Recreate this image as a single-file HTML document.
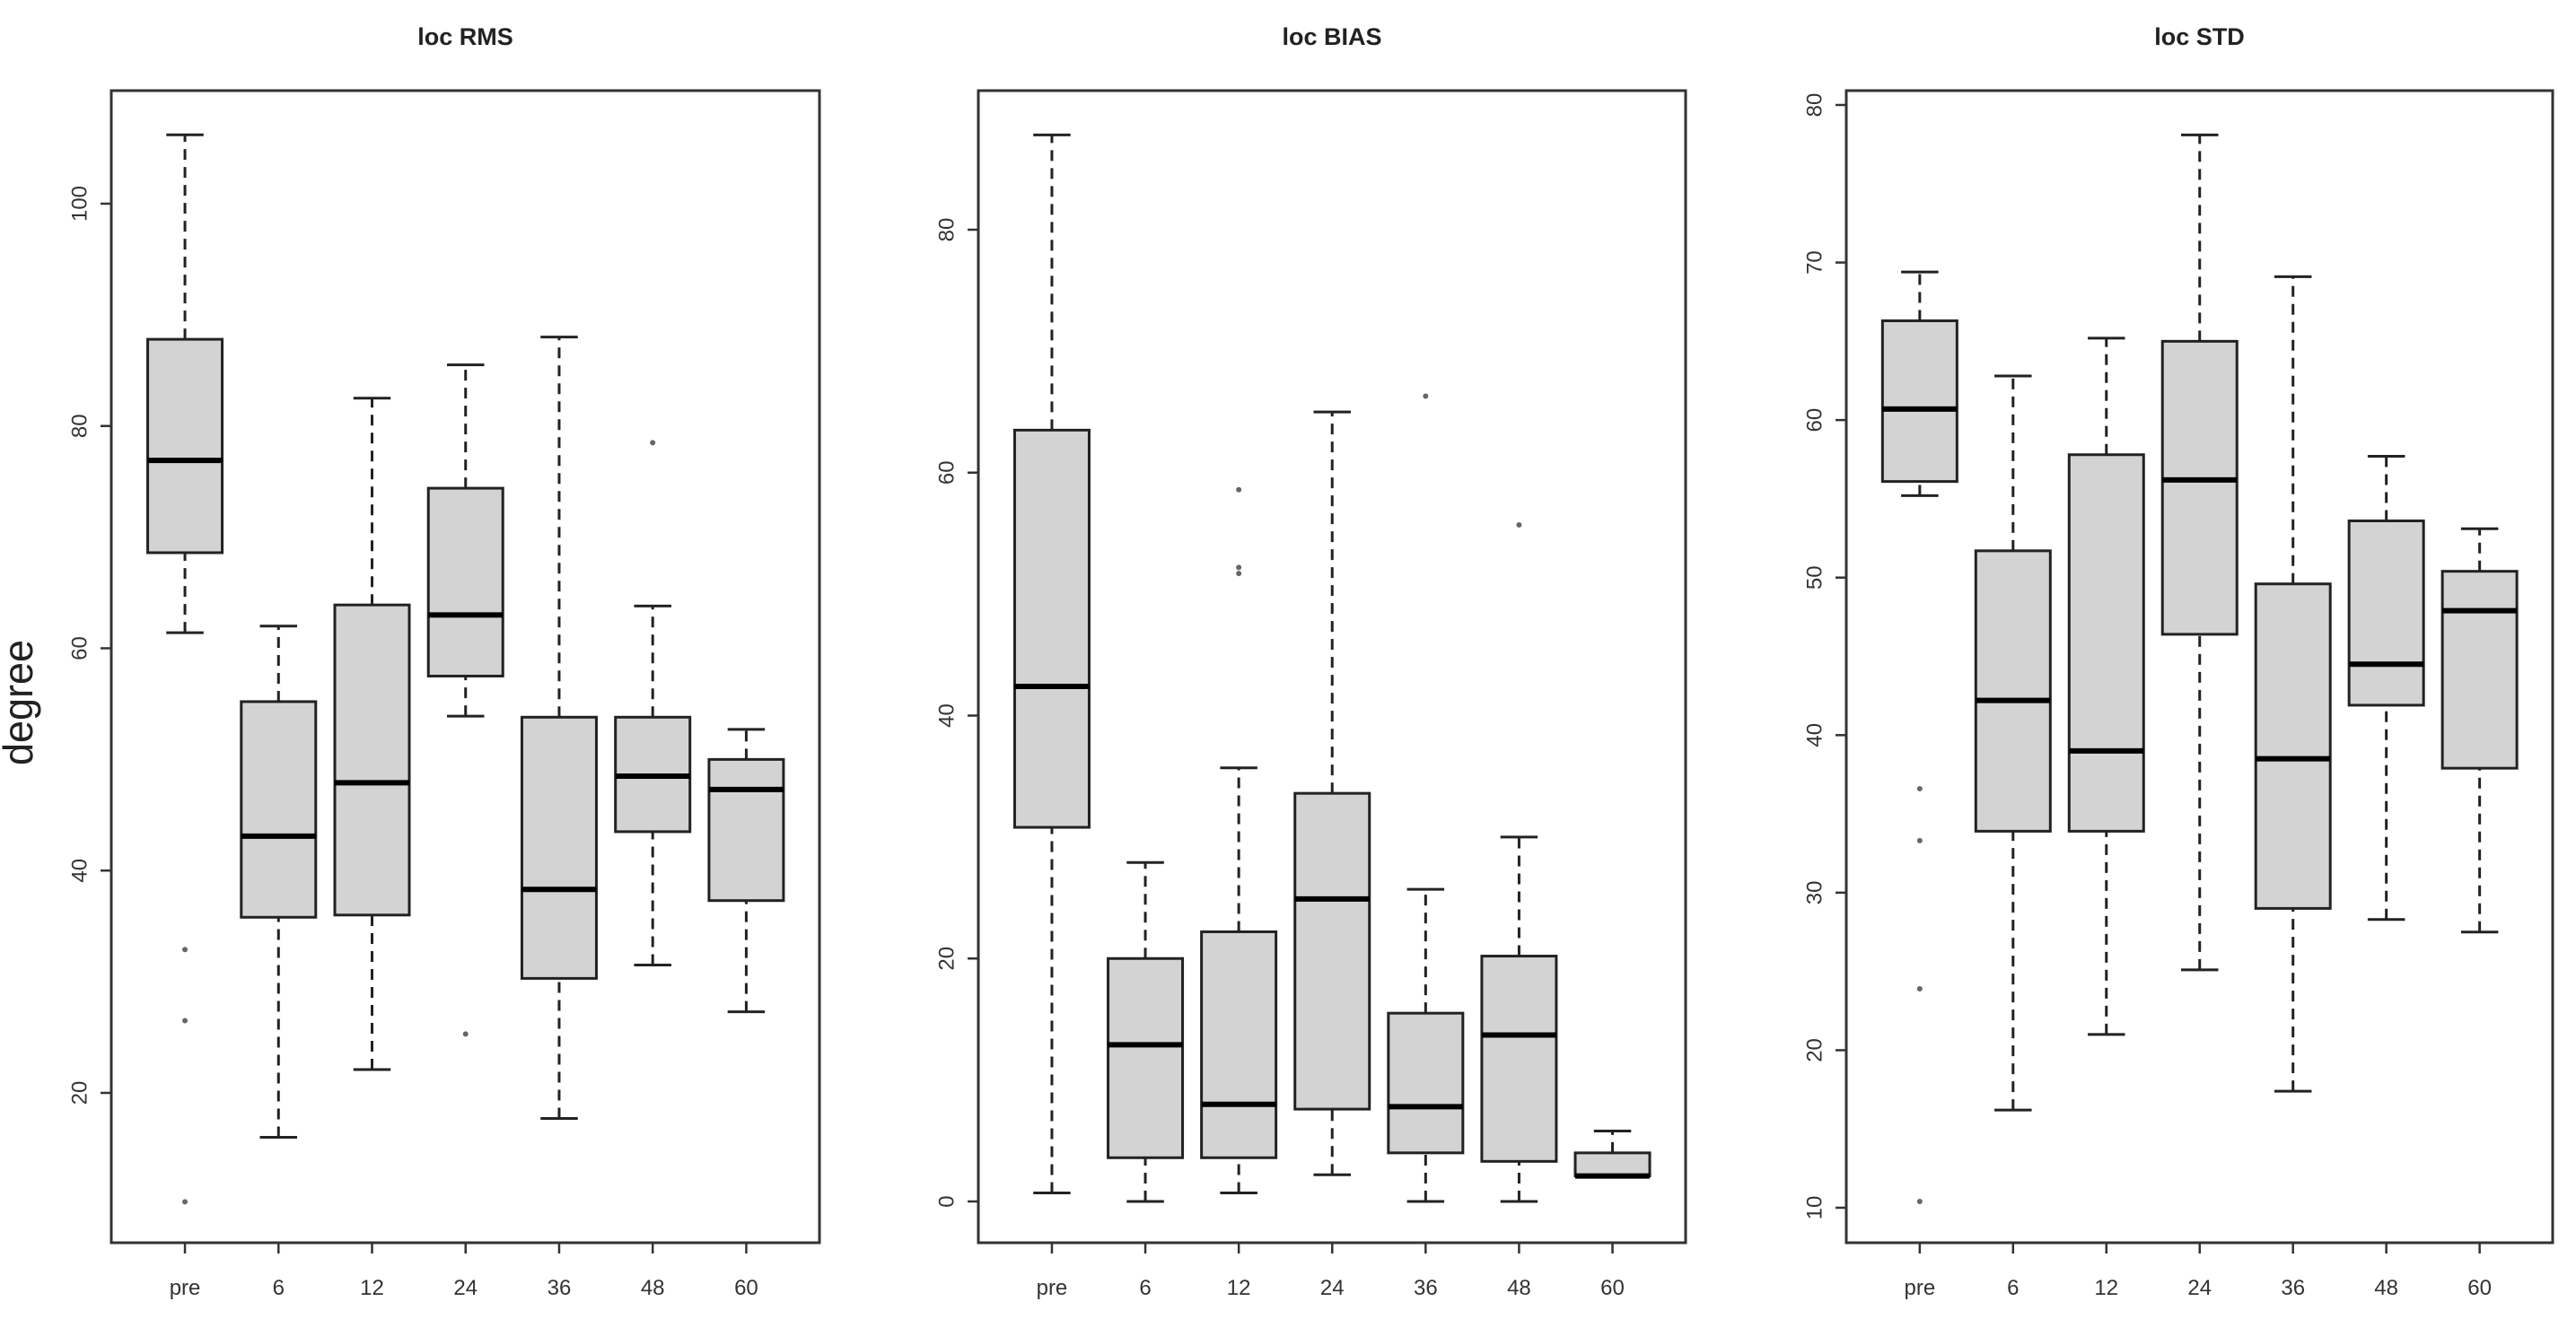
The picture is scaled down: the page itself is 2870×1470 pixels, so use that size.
<!DOCTYPE html>
<html><head><meta charset="utf-8"><style>
html,body{margin:0;padding:0;background:#fff;}
svg{display:block;}
text{font-family:"Liberation Sans",sans-serif;}
</style></head><body>
<svg id="chart" width="2870" height="1470" viewBox="0 0 2870 1470">
<text x="36" y="783" font-size="46" fill="#222" text-anchor="middle" transform="rotate(-90 36 783)" textLength="140" lengthAdjust="spacingAndGlyphs">degree</text>
</svg>
<script>
const categories = ["pre","6","12","24","36","48","60"];
const titles = ["loc RMS","loc BIAS","loc STD"];
// [whiskerLow, Q1, median, Q3, whiskerHigh]
const rmsStats = [[61.4,68.6,76.9,87.8,106.2],[16.0,35.8,43.1,55.2,62.0],[22.1,36.0,47.9,63.9,82.5],[53.9,57.5,63.0,74.4,85.5],[17.7,30.3,38.3,53.8,88.0],[31.5,43.5,48.5,53.8,63.8],[27.3,37.3,47.3,50.0,52.7]];
const rmsOutliers = [[32.9,26.5,10.2],[],[],[25.3],[],[78.5],[]];
const biasStats = [[0.7,30.8,42.4,63.5,87.8],[0,3.6,12.9,20.0,27.9],[0.7,3.6,8.0,22.2,35.7],[2.2,7.6,24.9,33.6,65.0],[0,4.0,7.8,15.5,25.7],[0,3.3,13.7,20.2,30.0],[2.0,2.1,2.1,4.0,5.8]];
const biasOut = [[],[],[58.6,52.2,51.7],[],[66.3],[55.7],[]];
const stdStats = [[55.2,56.1,60.7,66.3,69.4],[16.2,33.9,42.2,51.7,62.8],[21.0,33.9,39.0,57.8,65.2],[25.1,46.4,56.2,65.0,78.1],[17.4,29.0,38.5,49.6,69.1],[28.3,41.9,44.5,53.6,57.7],[27.5,37.9,47.9,50.4,53.1]];
const stdOutliers = [[36.6,33.3,23.9,10.4],[],[],[],[],[],[]];
const rmsTicks = [20,40,60,80,100];
const biasTicks = [0,20,40,60,80];
const stdTicks = [10,20,30,40,50,60,70,80];

const NS="http://www.w3.org/2000/svg";
const svgEl=document.getElementById('chart');
function mk(tag,attrs,parent){const e=document.createElementNS(NS,tag);for(const k in attrs)e.setAttribute(k,attrs[k]);(parent||svgEl).appendChild(e);return e;}

const panels=[
 {stats:rmsStats,out:rmsOutliers,ticks:rmsTicks,left:124,right:913,v1:100,p1:227,v2:20,p2:1218,title:titles[0],slug:'rms'},
 {stats:biasStats,out:biasOut,ticks:biasTicks,left:1090,right:1878,v1:80,p1:256,v2:0,p2:1339,title:titles[1],slug:'bias'},
 {stats:stdStats,out:stdOutliers,ticks:stdTicks,left:2057,right:2844,v1:80,p1:117,v2:10,p2:1346,title:titles[2],slug:'std'}
];
const plotTop=101,plotBottom=1385;
panels.forEach(p=>{
  const g=mk('g',{});
  
  
  const y=v=>p.p1+(p.v1-v)*(p.p2-p.p1)/(p.v1-p.v2);
  const step=(p.right-p.left)/7.57;
  const x=i=>p.left+(p.right-p.left)*0.104+i*step;
  const cx=(p.left+p.right)/2;
  const t=mk('text',{x:cx,y:50,'font-size':27,'font-weight':'bold','text-anchor':'middle',fill:'#222'},g);
  t.textContent=p.title;
  
  
  const fr=mk('rect',{x:p.left,y:plotTop,width:p.right-p.left,height:plotBottom-plotTop,fill:'none',stroke:'#333','stroke-width':3},g);
  
  
  p.ticks.forEach(v=>{
    mk('line',{x1:p.left-12,x2:p.left,y1:y(v),y2:y(v),stroke:'#333','stroke-width':2.5},g);
    const tx=p.left-34;
    const l=mk('text',{x:tx,y:y(v),'font-size':24,'text-anchor':'middle',fill:'#333',transform:`rotate(-90 ${tx} ${y(v)})`,'dominant-baseline':'middle'},g);
    l.textContent=v;
    
    
  });
  const bw=83;
  categories.forEach((c,i)=>{
    const xi=x(i);
    mk('line',{x1:xi,x2:xi,y1:plotBottom,y2:plotBottom+12,stroke:'#333','stroke-width':2.5},g);
    const cl=mk('text',{x:xi,y:1443,'font-size':24,'text-anchor':'middle',fill:'#333'},g);
    cl.textContent=c;
    
    
    const s=p.stats[i];
    const bg=mk('g',{},g);
    
    
    mk('line',{x1:xi,x2:xi,y1:y(s[0]),y2:y(s[1]),stroke:'#222','stroke-width':3,'stroke-dasharray':'12,8'},bg);
    mk('line',{x1:xi,x2:xi,y1:y(s[3]),y2:y(s[4]),stroke:'#222','stroke-width':3,'stroke-dasharray':'12,8'},bg);
    mk('line',{x1:xi-bw/4,x2:xi+bw/4,y1:y(s[0]),y2:y(s[0]),stroke:'#222','stroke-width':3},bg);
    mk('line',{x1:xi-bw/4,x2:xi+bw/4,y1:y(s[4]),y2:y(s[4]),stroke:'#222','stroke-width':3},bg);
    mk('rect',{x:xi-bw/2,y:y(s[3]),width:bw,height:Math.max(1,y(s[1])-y(s[3])),fill:'#d3d3d3',stroke:'#222','stroke-width':3},bg);
    mk('line',{x1:xi-bw/2,x2:xi+bw/2,y1:y(s[2]),y2:y(s[2]),stroke:'#000','stroke-width':6},bg);
    (p.out[i]||[]).forEach(o=>{
      const oc=mk('circle',{cx:xi,cy:y(o),r:2.5,fill:'#666',stroke:'#666','stroke-width':1},bg);
      
      
    });
  });
});
</script>
</body></html>
